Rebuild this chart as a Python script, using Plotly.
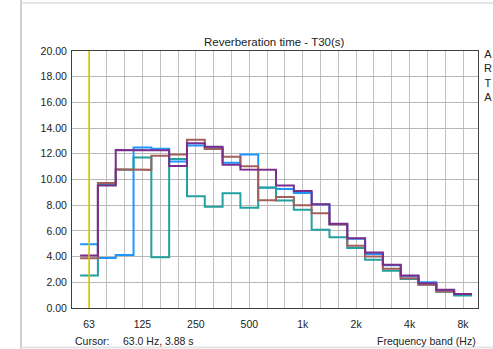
import plotly.graph_objects as go

# ---------------- data ----------------
bands = ["63", "80", "100", "125", "160", "200", "250", "315", "400", "500", "630",
         "800", "1k", "1.25k", "1.6k", "2k", "2.5k", "3.15k", "4k", "5k", "6.3k", "8k"]
tick_labels = ["63", "125", "250", "500", "1k", "2k", "4k", "8k"]

t30_blue = [4.97, 3.90, 4.12, 12.50, 12.40, 11.40, 12.65, 12.45, 11.30, 11.95, 9.35,
            9.27, 8.95, 8.05, 6.50, 5.38, 4.20, 3.32, 2.50, 2.00, 1.38, 1.05]
t30_teal = [2.53, 9.60, 10.75, 11.72, 3.95, 11.60, 8.70, 7.88, 8.93, 7.80, 9.38,
            8.37, 7.64, 6.08, 5.51, 4.66, 3.75, 2.89, 2.25, 1.80, 1.27, 0.97]
t30_brown = [3.88, 9.72, 10.80, 10.75, 11.85, 11.95, 13.10, 12.38, 11.77, 11.03, 8.38,
             8.63, 8.00, 7.38, 6.50, 4.84, 4.01, 3.05, 2.32, 1.80, 1.29, 1.08]
t30_purple = [4.08, 9.53, 12.30, 12.25, 12.28, 11.05, 12.82, 12.55, 11.14, 10.78, 10.75,
              9.53, 9.10, 8.08, 6.55, 5.43, 4.32, 3.36, 2.53, 1.93, 1.42, 1.08]

y_ticks = [0, 2, 4, 6, 8, 10, 12, 14, 16, 18, 20]
cursor_band = "63"
cursor_text = "63.0 Hz, 3.88 s"

series = [
    ("blue", t30_blue, "#1e96ff"),
    ("teal", t30_teal, "#23a0a0"),
    ("brown", t30_brown, "#a2605c"),
    ("purple", t30_purple, "#7a2d8c"),
]

# ---------------- geometry helpers ----------------
W, H = 493, 349
PL, PR, PT, PB = 72, 478, 51, 308  # plot area in pixels


def px(x):
    return (x - PL) / (PR - PL)


def py(y):
    return (PB - y) / (PB - PT)


band_idx = list(range(1, len(bands) + 1))  # 50 Hz would be index 0

fig = go.Figure()
for name, vals, col in series:
    xs, ys = [], []
    for i, v in zip(band_idx, vals):
        xs += [i - 0.5, i + 0.5]
        ys += [v, v]
    fig.add_trace(go.Scatter(x=xs, y=ys, mode="lines", name=name,
                             line=dict(color=col, width=2), showlegend=False,
                             hoverinfo="skip"))

font = "Liberation Sans, Arial, sans-serif"
ticktext = [b if b in tick_labels else "" for b in bands]

cx = band_idx[bands.index(cursor_band)]

shapes = [
    dict(type="line", xref="x", yref="paper", x0=cx, x1=cx, y0=0, y1=1,
         line=dict(color="#d8c600", width=1.5), layer="above"),
    # window frame
    dict(type="line", xref="paper", yref="paper", x0=px(21), x1=px(21), y0=py(0), y1=py(349),
         line=dict(color="#d0d0d0", width=2)),
    dict(type="line", xref="paper", yref="paper", x0=px(21), x1=px(493), y0=py(3), y1=py(3),
         line=dict(color="#dcdcdc", width=1.5)),
    dict(type="line", xref="paper", yref="paper", x0=px(21), x1=px(493), y0=py(347.5), y1=py(347.5),
         line=dict(color="#e4e4e4", width=2)),
]

annotations = [
    dict(text="Reverberation time - T30(s)", xref="paper", yref="paper",
         x=px(274.5), y=py(42), showarrow=False, xanchor="center", yanchor="middle",
         font=dict(family=font, size=11.5, color="#222")),
    dict(text="Cursor:", xref="paper", yref="paper", x=px(72.5), y=py(341),
         showarrow=False, xanchor="left", yanchor="middle",
         font=dict(family=font, size=10.5, color="#222")),
    dict(text=cursor_text, xref="paper", yref="paper", x=px(120.5), y=py(341),
         showarrow=False, xanchor="left", yanchor="middle",
         font=dict(family=font, size=10.5, color="#222")),
    dict(text="Frequency band (Hz)", xref="paper", yref="paper", x=px(478), y=py(341),
         showarrow=False, xanchor="right", yanchor="middle",
         font=dict(family=font, size=10.5, color="#222")),
    dict(text="A<br>R<br>T<br>A", xref="paper", yref="paper", x=px(488), y=py(75),
         showarrow=False, xanchor="center", yanchor="middle",
         font=dict(family=font, size=11, color="#222")),
]

fig.update_layout(
    width=W, height=H,
    margin=dict(l=PL, r=W - PR, t=PT, b=H - PB, pad=0),
    paper_bgcolor="white", plot_bgcolor="white",
    shapes=shapes, annotations=annotations,
    font=dict(family=font, size=10.5, color="#222"),
)
fig.update_xaxes(
    range=[0.045, 22.84], tickmode="array", tickvals=band_idx, ticktext=ticktext,
    showgrid=True, gridcolor="#c0c0c0", gridwidth=1, zeroline=False,
    showline=True, linecolor="#404040", linewidth=1, mirror=True,
    ticks="outside", ticklen=6, tickcolor="rgba(0,0,0,0)",
    tickfont=dict(family=font, size=10.5, color="#222"), fixedrange=True,
)
fig.update_yaxes(
    range=[0, 20], tickmode="array", tickvals=y_ticks,
    ticktext=[f"{v:.2f}" for v in y_ticks],
    showgrid=True, gridcolor="#b8b8b8", gridwidth=1, zeroline=False,
    showline=True, linecolor="#404040", linewidth=1, mirror=True,
    ticks="outside", ticklen=2, tickcolor="rgba(0,0,0,0)",
    tickfont=dict(family=font, size=10.5, color="#222"), fixedrange=True,
)

fig.write_html("out.html", config={"displayModeBar": False})
